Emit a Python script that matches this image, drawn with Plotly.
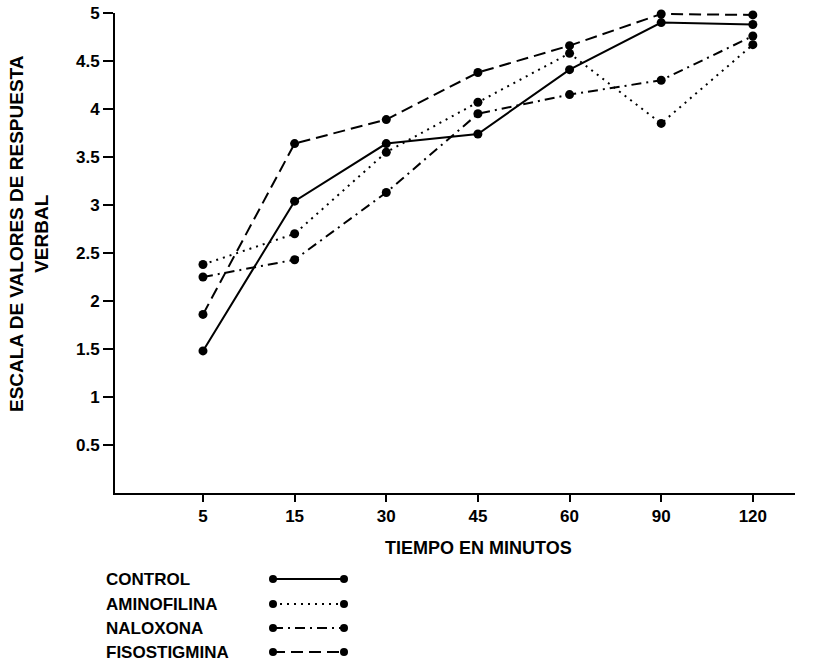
import plotly.graph_objects as go

tiempos = ["5", "15", "30", "45", "60", "90", "120"]
control = [1.48, 3.04, 3.64, 3.74, 4.41, 4.90, 4.88]
aminofilina = [2.38, 2.70, 3.55, 4.07, 4.58, 3.85, 4.67]
naloxona = [2.25, 2.43, 3.13, 3.95, 4.15, 4.30, 4.76]
fisostigmina = [1.86, 3.64, 3.89, 4.38, 4.66, 4.99, 4.98]

series_names = ["CONTROL", "AMINOFILINA", "NALOXONA", "FISOSTIGMINA"]
series_values = [control, aminofilina, naloxona, fisostigmina]
series_dash = ["solid", "2px,5px", "10px,5px,2px,5px", "12px,6px"]

ytick_vals = [0.5, 1, 1.5, 2, 2.5, 3, 3.5, 4, 4.5, 5]
ytick_text = ["0.5", "1", "1.5", "2", "2.5", "3", "3.5", "4", "4.5", "5"]

W, H = 818, 662
AX_L, AX_R, AX_T, AX_B = 115, 795, 13, 493
ML, MR, MT, MB = AX_L, W - AX_R, AX_T, H - AX_B
PW, PH = W - ML - MR, H - MT - MB

def px_x(px):
    return (px - AX_L) / PW

def px_y(py):
    return (AX_B - py) / PH

FONT = "Liberation Sans"

fig = go.Figure()
for name, vals, dash in zip(series_names, series_values, series_dash):
    fig.add_trace(go.Scatter(
        x=tiempos, y=vals, name=name, mode="lines+markers",
        line=dict(color="black", width=2, dash=dash),
        marker=dict(color="black", size=9),
        showlegend=False, cliponaxis=False,
    ))

shapes = []
annotations = []
leg_y = [579, 604, 628, 652]
for name, dash, py in zip(series_names, series_dash, leg_y):
    shapes.append(dict(type="line", xref="paper", yref="paper",
                       x0=px_x(273), x1=px_x(344), y0=px_y(py), y1=px_y(py),
                       line=dict(color="black", width=2, dash=dash)))
    for cx in (273, 344):
        shapes.append(dict(type="circle", xref="paper", yref="paper",
                           xsizemode="pixel", ysizemode="pixel",
                           xanchor=px_x(cx), yanchor=px_y(py),
                           x0=-4, x1=4, y0=-4, y1=4,
                           fillcolor="black", line=dict(color="black", width=0)))
    annotations.append(dict(text=name, xref="paper", yref="paper",
                            x=px_x(104), y=px_y(py), xanchor="left", yanchor="middle",
                            showarrow=False,
                            font=dict(family=FONT, size=17, color="black", weight="bold")))

annotations.append(dict(text="ESCALA DE VALORES DE RESPUESTA<br>VERBAL",
                        xref="paper", yref="paper", x=px_x(29), y=px_y(234),
                        xanchor="center", yanchor="middle", textangle=-90,
                        showarrow=False,
                        font=dict(family=FONT, size=19, color="black", weight="bold")))
annotations.append(dict(text="TIEMPO EN MINUTOS", xref="paper", yref="paper",
                        x=px_x(478), y=px_y(548), xanchor="center", yanchor="middle",
                        showarrow=False,
                        font=dict(family=FONT, size=18, color="black", weight="bold")))

fig.update_layout(
    width=W, height=H,
    margin=dict(l=ML, r=MR, t=MT, b=MB, autoexpand=False),
    paper_bgcolor="white", plot_bgcolor="white",
    shapes=shapes, annotations=annotations,
    font=dict(family=FONT, color="black"),
)
fig.update_xaxes(
    type="category", range=[-0.96, 6.46], automargin=False,
    showline=True, linecolor="black", linewidth=2,
    ticks="outside", ticklen=7, tickwidth=2, tickcolor="black",
    showgrid=False, zeroline=False,
    tickfont=dict(family=FONT, size=17, color="black", weight="bold"),
)
fig.update_yaxes(
    range=[0, 5], tickvals=ytick_vals, ticktext=ytick_text, automargin=False,
    showline=True, linecolor="black", linewidth=2,
    ticks="outside", ticklen=10, tickwidth=2, tickcolor="black",
    showgrid=False, zeroline=False,
    tickfont=dict(family=FONT, size=17, color="black", weight="bold"),
)

fig.write_html(
    "out.html",
    config={"displayModeBar": False},
    post_script="document.body.style.margin='0';document.body.style.padding='0';"
                "document.body.style.overflow='hidden';",
)
